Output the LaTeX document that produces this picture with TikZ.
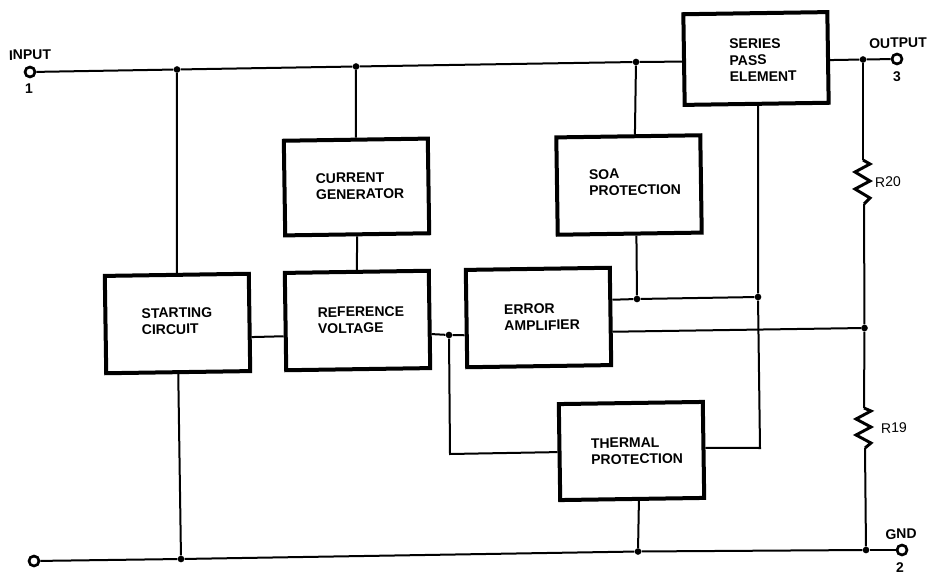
\documentclass[tikz,border=0pt]{standalone}
\usepackage{fontspec}
\setmainfont{Liberation Sans}
\usepackage{tikz}

\tikzset{
    block/.style={draw, line width=3pt, minimum width=108pt, rotate=0.85, inner sep=0pt},
    blocktext/.style={font=\fontsize{10.5}{12.3}\selectfont\bfseries, align=left, rotate=0.85, inner sep=0pt},
    pinlabel/.style={font=\fontsize{10.5}{12}\selectfont\bfseries, rotate=0.85, inner sep=0pt},
    reslabel/.style={font=\fontsize{10.5}{12}\selectfont, rotate=0.85, inner sep=0pt},
    wire/.style={line width=1.5pt},
    dot/.style={circle, fill, inner sep=0pt, minimum size=5pt},
    terminal/.style={circle, draw, fill=white, line width=2pt, inner sep=0pt, minimum size=7.5pt},
}

\begin{document}
\begin{tikzpicture}[x=0.75pt, y=-0.75pt]
        \useasboundingbox (0,0) rectangle (928,574);

        % Blocks
        \node[block, minimum height=68pt] (series) at (756,58.5) {};
        \node[block, minimum height=71pt] (current) at (356.5,187) {};
        \node[block, minimum height=73pt] (soa) at (629,185) {};
        \node[block, minimum height=73pt] (starting) at (177.5,323.5) {};
        \node[block, minimum height=73pt] (reference) at (357.5,320.5) {};
        \node[block, minimum height=73pt] (error) at (538.5,317.5) {};
        \node[block, minimum height=72pt] (thermal) at (631.5,451) {};

        % Block texts
        \node[blocktext] (seriestext) at (763,60) {SERIES\\PASS\\ELEMENT};
        \node[blocktext] (currenttext) at (360,186) {CURRENT\\GENERATOR};
        \node[blocktext] (soatext) at (635,182) {SOA\\PROTECTION};
        \node[blocktext] (startingtext) at (177,321) {STARTING\\CIRCUIT};
        \node[blocktext] (referencetext) at (361,320) {REFERENCE\\VOLTAGE};
        \node[blocktext] (errortext) at (542,317) {ERROR\\AMPLIFIER};
        \node[blocktext] (thermaltext) at (637,451) {THERMAL\\PROTECTION};

        % Junctions
        \node[dot] (inj1) at (177,69.5) {};
        \node[dot] (inj2) at (356,66.5) {};
        \node[dot] (inj3) at (636,62) {};
        \node[dot] (outj) at (863,59.5) {};
        \node[dot] (sensej1) at (637,299) {};
        \node[dot] (sensej2) at (758,297) {};
        \node[dot] (fbj) at (864.5,328) {};
        \node[dot] (refj) at (449,335) {};
        \node[dot] (gndj1) at (181,559) {};
        \node[dot] (gndj2) at (638,551.5) {};
        \node[dot] (gndj3) at (866,550) {};
        \coordinate (thermalcorner) at (450,454);
        \coordinate (sensecorner) at (760,448);
        \coordinate (r20top) at (863,160);
        \coordinate (r20bot) at (864,204);
        \coordinate (r19top) at (864,408);
        \coordinate (r19bot) at (865,448);

        % Wires
        \draw[wire] (inj1) -- (inj2) -- (inj3) -- ([yshift=-1.5pt]series.west);
        \draw[wire] (inj1) -- (starting.north);
        \draw[wire] (inj2) -- (current.north);
        \draw[wire] (current.south) -- (reference.north);
        \draw[wire] ([xshift=5pt]soa.north) -- (inj3);
        \draw[wire] ([xshift=5pt]soa.south) -- (sensej1);
        \draw[wire] ([yshift=-2pt]series.east) -- (outj);
        \draw[wire] ([xshift=1pt]series.south) -- (sensej2) -- (sensecorner) -- ([yshift=1.5pt]thermal.east);
        \draw[wire] ([yshift=12.5pt]error.east) -- (sensej1) -- (sensej2);
        \draw[wire] ([yshift=-11.5pt]error.east) -- (fbj);
        \draw[wire] ([yshift=-11pt]starting.east) -- ([yshift=-11pt]reference.west);
        \draw[wire] ([yshift=-11pt]reference.east) -- (refj) -- ([yshift=-12.5pt]error.west);
        \draw[wire] (refj) -- (thermalcorner) -- (thermal.west);
        \draw[wire] (starting.south) -- (gndj1);
        \draw[wire] ([xshift=5pt]thermal.south) -- (gndj2);
        \draw[wire] (outj) -- (r20top);
        \draw[wire] (r20bot) -- (fbj) -- (r19top);
        \draw[wire] (r19bot) -- (gndj3);
        \draw[wire] (gndj1) -- (gndj2) -- (gndj3);

        % Resistors
        \draw[line width=2.2pt, line join=miter] (r20top) -- ++(7,4) -- ++(-15,8) -- ++(15,9) -- ++(-15,8) -- ++(15,9) -- (r20bot);
        \draw[line width=2.2pt, line join=miter] (r19top) -- ++(7,3) -- ++(-15,8) -- ++(15,8) -- ++(-15,8) -- ++(15,8) -- (r19bot);
        \node[reslabel] (r20label) at (888,182) {R20};
        \node[reslabel] (r19label) at (894,428) {R19};

        % Terminals
        \node[terminal] (input) at (30,72) {};
        \node[terminal] (output) at (897,59) {};
        \node[terminal] (gnd) at (902,550) {};
        \node[terminal] (common) at (34,561) {};
        \draw[wire] (input) -- (inj1);
        \draw[wire] (outj) -- (output);
        \draw[wire] (gndj3) -- (gnd);
        \draw[wire] (common) -- (gndj1);

        % Terminal labels
        \node[pinlabel] (inputlabel) at (30,55) {INPUT};
        \node[pinlabel] (inputpin) at (29,89) {1};
        \node[pinlabel] (outputlabel) at (898,43) {OUTPUT};
        \node[pinlabel] (outputpin) at (897,77) {3};
        \node[pinlabel] (gndlabel) at (901,534) {GND};
        \node[pinlabel] (gndpin) at (900,568) {2};
    \end{tikzpicture}
\end{document}
